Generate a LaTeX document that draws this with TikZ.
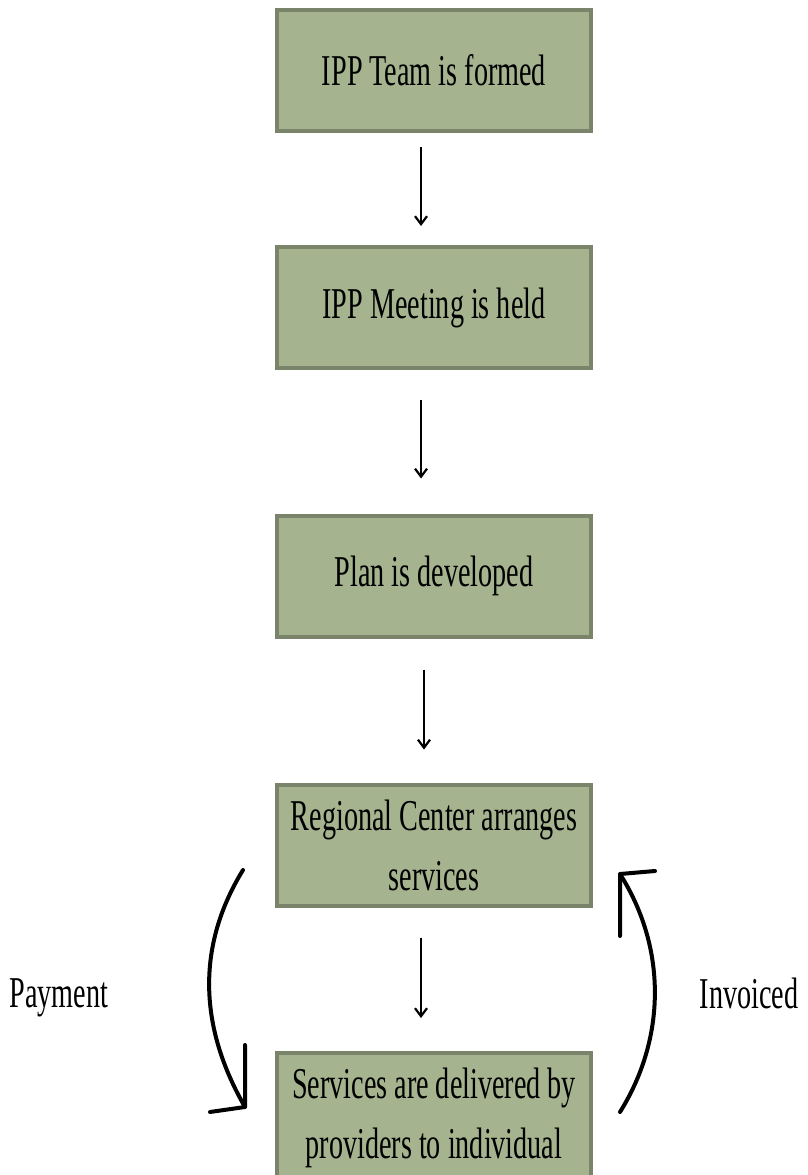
\documentclass[tikz,border=0pt]{standalone}
\usepackage{fontspec}
\setmainfont{Liberation Serif}[FakeStretch=0.64]
\usetikzlibrary{arrows.meta}
\definecolor{boxfill}{HTML}{A5B38F}
\definecolor{boxline}{HTML}{7A846A}
\tikzset{
  stepbox/.style={draw=boxline, fill=boxfill, line width=4pt, minimum width=314pt, minimum height=121pt, inner sep=0pt, align=center, font=\fontsize{44}{60}\selectfont},
  flowarrow/.style={line width=2.2pt, -{Straight Barb[length=8pt,width=12pt,line width=2.2pt]}},
  sketch/.style={line width=4pt, line cap=round, line join=round},
  lbl/.style={font=\fontsize{44}{50}\selectfont, inner sep=0pt}
}
\begin{document}
\begin{tikzpicture}[x=1pt,y=-1pt]
\useasboundingbox (0,0) rectangle (807,1175);
\begin{scope}
\clip (0,0) rectangle (807,1175);
\node[stepbox] (b1) at (434,70.5) {IPP Team is formed};
\node[stepbox] (b2) at (434,307.5) {IPP Meeting is held};
\node[stepbox] (b3) at (434,576) {Plan is developed};
\node[stepbox] (b4) at (434,845) {Regional Center arranges\\services};
\node[stepbox, minimum height=130pt] (b5) at (434,1118) {Services are delivered by\\providers to individual};
\end{scope}
\draw[flowarrow, shorten <=14pt, shorten >=19pt] ([xshift=-13pt]b1.south) -- ([xshift=-13pt]b2.north);
\draw[flowarrow, shorten <=30pt, shorten >=35pt] ([xshift=-13pt]b2.south) -- ([xshift=-13pt]b3.north);
\draw[flowarrow, shorten <=31pt, shorten >=33pt] ([xshift=-10pt]b3.south) -- ([xshift=-10pt]b4.north);
\draw[flowarrow, shorten <=30pt, shorten >=33pt] ([xshift=-13pt]b4.south) -- ([xshift=-13pt]b5.north);
% Payment curve
\coordinate (p0) at (243,870);
\coordinate (p1) at (245,1107);
\coordinate (pa) at (245,1045);
\coordinate (pb) at (210,1112);
\draw[sketch] (p0) .. controls (200,940) and (195,1020) .. (p1);
\draw[sketch] (pa) -- (p1) -- (pb);
% Invoiced curve
\coordinate (q0) at (620,1112);
\coordinate (q1) at (620,874);
\coordinate (qa) at (620,936);
\coordinate (qb) at (655,871);
\draw[sketch] (q0) .. controls (665,1040) and (668,950) .. (q1);
\draw[sketch] (qa) -- (q1) -- (qb);
\node[lbl] (pay) at (59,998) {Payment};
\node[lbl] (inv) at (749,993) {Invoiced};
\end{tikzpicture}
\end{document}
